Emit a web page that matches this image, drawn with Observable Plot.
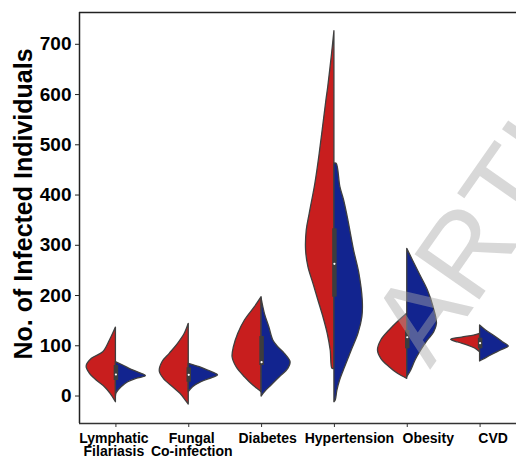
<!DOCTYPE html>
<html>
<head>
<meta charset="utf-8">
<script src="https://cdn.jsdelivr.net/npm/d3@7"></script>
<script src="https://cdn.jsdelivr.net/npm/@observablehq/plot@0.6"></script>
<style>
  html, body { margin: 0; padding: 0; background: #fff; }
  #chart svg { display: block; }
</style>
</head>
<body>
<div id="chart"></div>
<script>
// ---- data ----
const categories = ["Lymphatic Filariasis", "Fungal Co-infection", "Diabetes", "Hypertension", "Obesity", "CVD"];
const tickLabels = ["Lymphatic\nFilariasis", "Fungal\nCo-infection", "Diabetes", "Hypertension", "Obesity", "CVD"];
const yTicks = [0, 100, 200, 300, 400, 500, 600, 700];
const yDomain = [-54.7, 763.3];

// density outlines: [value, half-width as fraction of category slot]
const redProfiles = [
  [[136.3,0],[110.5,.082],[87.2,.174],[74.0,.330],[58.7,.402],[44.2,.357],[30.9,.265],[17.5,.151],[4.4,.073],[-12.3,0]],
  [[143.7,0],[123.8,.055],[103.9,.147],[84.0,.261],[67.3,.361],[48.8,.398],[34.2,.343],[17.5,.216],[4.4,.114],[-9.0,.041],[-16.9,0]],
  [[196.7,0],[176.8,.092],[150.3,.229],[123.8,.320],[97.1,.380],[77.2,.398],[57.3,.343],[37.4,.229],[20.9,.114],[10.9,.027],[7.6,0]],
  [[726.1,0],[681.1,.032],[614.6,.085],[588.2,.110],[482.1,.202],[423,.261],[362.7,.339],[329.4,.380],[289.6,.389],[256.4,.357],[223.3,.288],[190.1,.220],[156.8,.151],[123.8,.092],[90.6,.051],[54.1,.027],[54.0,0]],
  [[163.6,0],[150.3,.106],[130.4,.243],[110.5,.357],[90.6,.402],[74.0,.357],[57.3,.243],[44.2,.128],[34.2,0]],
  [[123.8,0],[120.4,.082],[116.4,.247],[111.9,.398],[106.5,.302],[100.5,.165],[94.5,.069],[87.2,0]]
];
const blueProfiles = [
  [[67.3,0],[60.7,.100],[52.1,.216],[44.2,.353],[39.4,.412],[34.2,.284],[27.5,.169],[17.5,.078],[5.6,.010],[-1,0]],
  [[64.1,0],[57.3,.151],[50.8,.265],[44.2,.371],[40.8,.402],[36.2,.330],[27.5,.174],[17.5,.059],[7.6,0]],
  [[194.1,0],[163.6,.045],[136.9,.106],[110.5,.161],[97.1,.229],[84.0,.320],[67.3,.398],[54.1,.367],[37.4,.251],[20.9,.137],[7.6,.045],[-1.0,0]],
  [[462.3,0],[462.2,.03],[415.6,.082],[389.1,.133],[349.3,.192],[289.6,.270],[243.2,.343],[190.1,.389],[156.8,.384],[123.8,.330],[90.6,.238],[57.3,.147],[30.9,.078],[10.9,.041],[-9.0,.018],[-12.3,0]],
  [[293.0,0],[269.7,.078],[243.2,.169],[210.0,.284],[176.8,.361],[143.7,.408],[127.0,.371],[110.5,.284],[90.6,.192],[70.7,.114],[50.8,.055],[37.4,0]],
  [[140.3,0],[130.4,.082],[117.0,.220],[107.1,.312],[98.5,.394],[90.6,.288],[80.6,.151],[72.1,.045],[68.7,0]]
];
const q1 = [30.9, 27.5, 60.7, 196.7, 94.0, 94.0];
const median = [42.8, 42.2, 67.3, 263.1, 117.0, 105.1];
const q3 = [60.7, 56.1, 118.4, 332.8, 130.4, 115.0];

// ---- build tables ----
const toRows = (profiles) => profiles.flatMap((p, i) => p.map(([v, w]) => ({i, v, w})));
const redRows = toRows(redProfiles);
const blueRows = toRows(blueProfiles);
const boxes = categories.map((c, i) => ({i, q1: q1[i], q3: q3[i], med: median[i]}));

const RED = "#c81e1e", BLUE = "#12248f", EDGE = "#3f3f3f";
const FONT = "'Liberation Sans', Arial, Helvetica, sans-serif";
// horizontal nudges of the category labels (the reference's labels sit slightly right of their ticks)
const labelShift = [-2, 3, 6, 15, 21, 13];

const labelAxes = categories.map((c, i) => Plot.axisX([i], {
  stroke: "none", tickSize: 4, tickPadding: 7, fontSize: 14, fontWeight: "bold",
  label: null, tickFormat: j => tickLabels[j], lineHeight: 0.9, dx: labelShift[i]
}));

const chart = Plot.plot({
  width: 516,
  height: 459,
  marginTop: 12,
  marginBottom: 36,
  marginLeft: 79,
  marginRight: 0,
  x: {domain: [-0.5, categories.length - 0.5]},
  y: {domain: yDomain},
  style: {fontFamily: FONT, fontWeight: "bold", color: "#000", background: "#fff", overflow: "visible"},
  marks: [
    Plot.areaX(redRows, {y: "v", x1: "i", x2: d => d.i - d.w, z: "i", fill: RED, stroke: EDGE, strokeWidth: 1.3, curve: "catmull-rom"}),
    Plot.areaX(blueRows, {y: "v", x1: "i", x2: d => d.i + d.w, z: "i", fill: BLUE, stroke: EDGE, strokeWidth: 1.3, curve: "catmull-rom"}),
    Plot.ruleX(boxes, {x: "i", y1: "q1", y2: "q3", stroke: "#3d3d3d", strokeWidth: 4.5}),
    Plot.dot(boxes, {x: "i", y: "med", r: 1.1, fill: "#fff", stroke: null}),
    Plot.ruleX([-0.5], {stroke: "#222", strokeWidth: 1.5}),
    Plot.ruleY([yDomain[0]], {stroke: "#333", strokeWidth: 1.6}),
    Plot.ruleY([yDomain[1]], {stroke: "#222", strokeWidth: 1.4}),
    Plot.axisY(yTicks, {tickSize: 4, tickPadding: 4, fontSize: 19, fontWeight: "bold", label: null, stroke: "#222"}),
    Plot.axisX(d3.range(categories.length), {fill: "none", tickSize: 4, label: null, stroke: "#333"}),
    ...labelAxes,
    Plot.text(["No. of Infected Individuals"], {frameAnchor: "left", rotate: -90, dx: -56, dy: -14, fontSize: 25, fontWeight: "bold", lineAnchor: "middle", textAnchor: "middle"})
  ]
});
document.getElementById("chart").appendChild(chart);

// watermark (decoration on top of the plot)
d3.select(chart).append("text")
  .attr("transform", "translate(430,370) rotate(-55)")
  .attr("text-anchor", "start")
  .attr("font-family", FONT)
  .attr("font-size", 115)
  .attr("font-weight", "normal")
  .attr("fill", "#a8a8a8")
  .attr("fill-opacity", 0.45)
  .text("ARTICLE");
</script>
</body>
</html>
